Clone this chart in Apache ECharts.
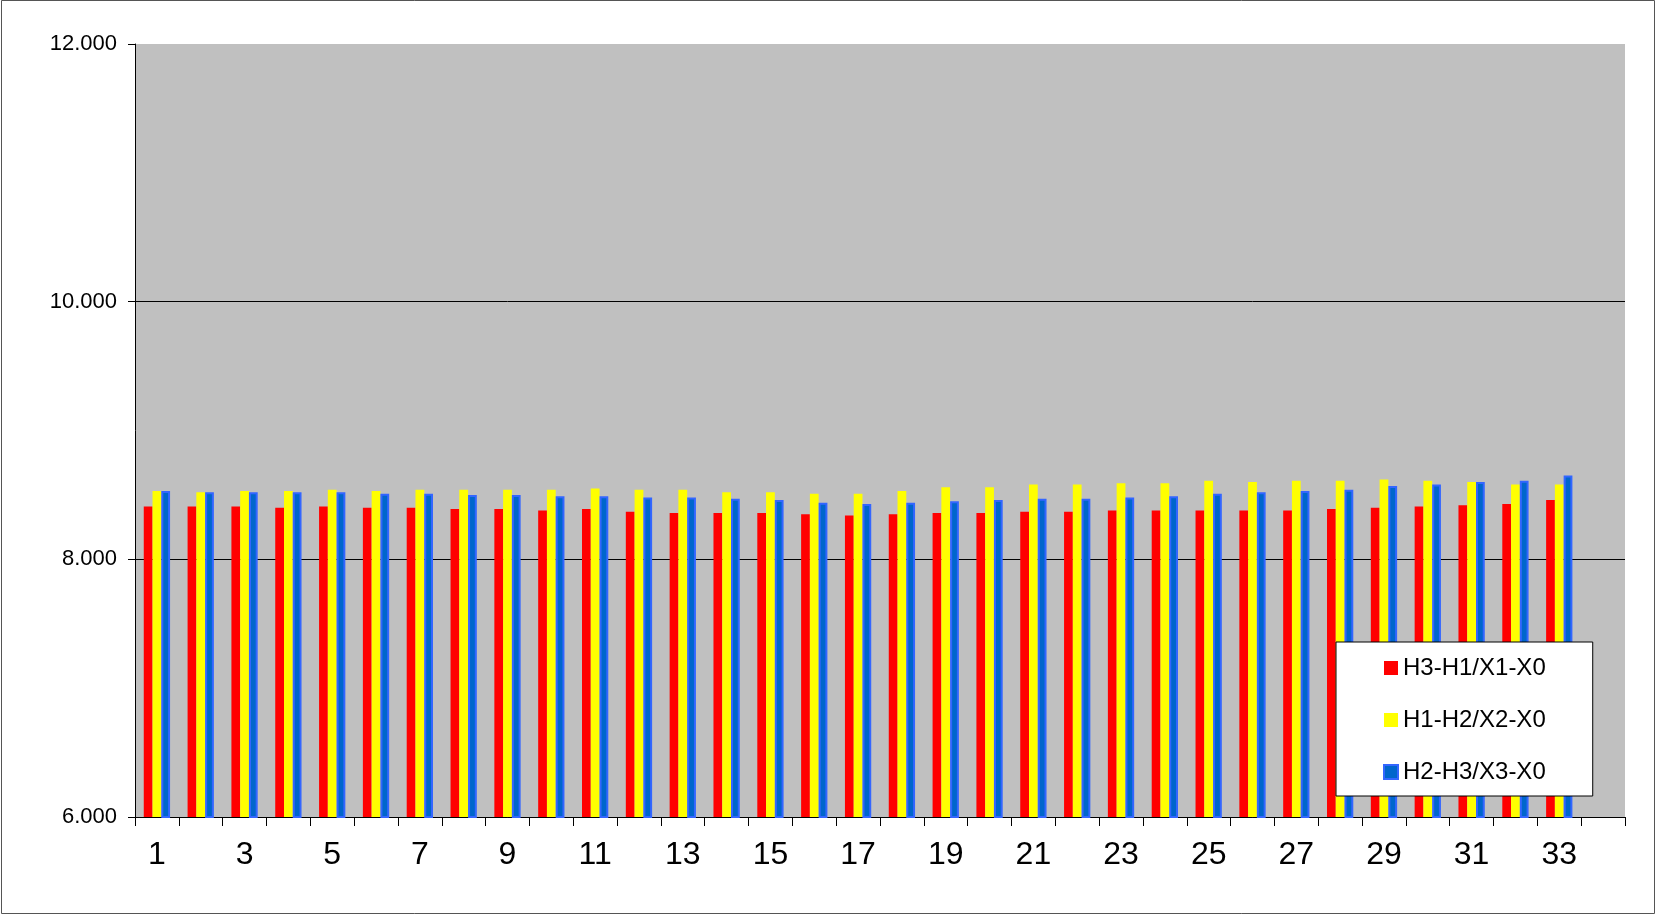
<!DOCTYPE html>
<html>
<head>
<meta charset="utf-8">
<script src="https://cdn.jsdelivr.net/npm/echarts@6/dist/echarts.min.js"></script>
<style>
html,body{margin:0;padding:0;background:#fff;}
#chart{width:1657px;height:915px;}
</style>
</head>
<body>
<div id="chart"></div>
<script>
const categories = ['1','2','3','4','5','6','7','8','9','10','11','12','13','14','15','16','17','18','19','20','21','22','23','24','25','26','27','28','29','30','31','32','33','34'];
const seriesNames = ['H3-H1/X1-X0','H1-H2/X2-X0','H2-H3/X3-X0'];
const h3h1 = [8.41,8.41,8.41,8.40,8.41,8.40,8.40,8.39,8.39,8.38,8.39,8.37,8.36,8.36,8.36,8.35,8.34,8.35,8.36,8.36,8.37,8.37,8.38,8.38,8.38,8.38,8.38,8.39,8.40,8.41,8.42,8.43,8.46,null];
const h1h2 = [8.53,8.52,8.53,8.53,8.54,8.53,8.54,8.54,8.54,8.54,8.55,8.54,8.54,8.52,8.52,8.51,8.51,8.53,8.56,8.56,8.58,8.58,8.59,8.59,8.61,8.60,8.61,8.61,8.62,8.61,8.60,8.58,8.58,null];
const h2h3 = [8.53,8.52,8.52,8.52,8.52,8.51,8.51,8.50,8.50,8.49,8.49,8.48,8.48,8.47,8.46,8.44,8.43,8.44,8.45,8.46,8.47,8.47,8.48,8.49,8.51,8.52,8.53,8.54,8.57,8.58,8.60,8.61,8.65,null];
const yTicks = {min: 6, max: 12, interval: 2};

const FONT = 'Arial, "Liberation Sans", sans-serif';
const chart = echarts.init(document.getElementById('chart'), null, {renderer: 'canvas'});
chart.setOption({
  animation: false,
  backgroundColor: '#ffffff',
  graphic: [{
    type: 'rect', silent: true, z: 100,
    shape: {x: 1.5, y: 0.5, width: 1653, height: 913},
    style: {fill: 'none', stroke: '#555', lineWidth: 1}
  }],
  grid: {left: 135, top: 44, right: 32, bottom: 98, show: true, backgroundColor: '#c0c0c0', borderWidth: 0},
  legend: {
    orient: 'vertical',
    left: 1336, top: 642,
    padding: [14, 47, 12, 47],
    itemGap: 28,
    itemWidth: 14, itemHeight: 14,
    backgroundColor: '#ffffff',
    borderColor: '#000000', borderWidth: 1,
    icon: 'rect',
    textStyle: {fontFamily: FONT, fontSize: 24, color: '#000', padding: [0,0,0,0]},
    data: seriesNames
  },
  xAxis: {
    type: 'category',
    data: categories,
    boundaryGap: true,
    axisLine: {lineStyle: {color: '#000', width: 1}},
    axisTick: {show: true, interval: 0, length: 9, lineStyle: {color: '#000'}},
    axisLabel: {interval: 1, margin: 22, fontFamily: FONT, fontSize: 32, color: '#000'},
    splitLine: {show: false}
  },
  yAxis: {
    type: 'value',
    min: yTicks.min, max: yTicks.max, interval: yTicks.interval,
    axisLine: {show: true, lineStyle: {color: '#000', width: 1}},
    axisTick: {show: true, length: 7, lineStyle: {color: '#000'}},
    axisLabel: {margin: 18, fontFamily: FONT, fontSize: 22, color: '#000', formatter: v => v.toFixed(3)},
    splitLine: {show: true, lineStyle: {color: ['#000','#000','#000','#c0c0c0'], width: 1}}
  },
  series: [
    {name: seriesNames[0], type: 'bar', data: h3h1, barGap: '0%', barCategoryGap: '40%',
     itemStyle: {color: '#ff0000'}},
    {name: seriesNames[1], type: 'bar', data: h1h2, barGap: '0%', barCategoryGap: '40%',
     itemStyle: {color: '#ffff00'}},
    {name: seriesNames[2], type: 'bar', data: h2h3, barGap: '0%', barCategoryGap: '40%',
     itemStyle: {color: '#0066cc', borderColor: '#3366ff', borderWidth: 2}}
  ]
});
</script>
</body>
</html>
